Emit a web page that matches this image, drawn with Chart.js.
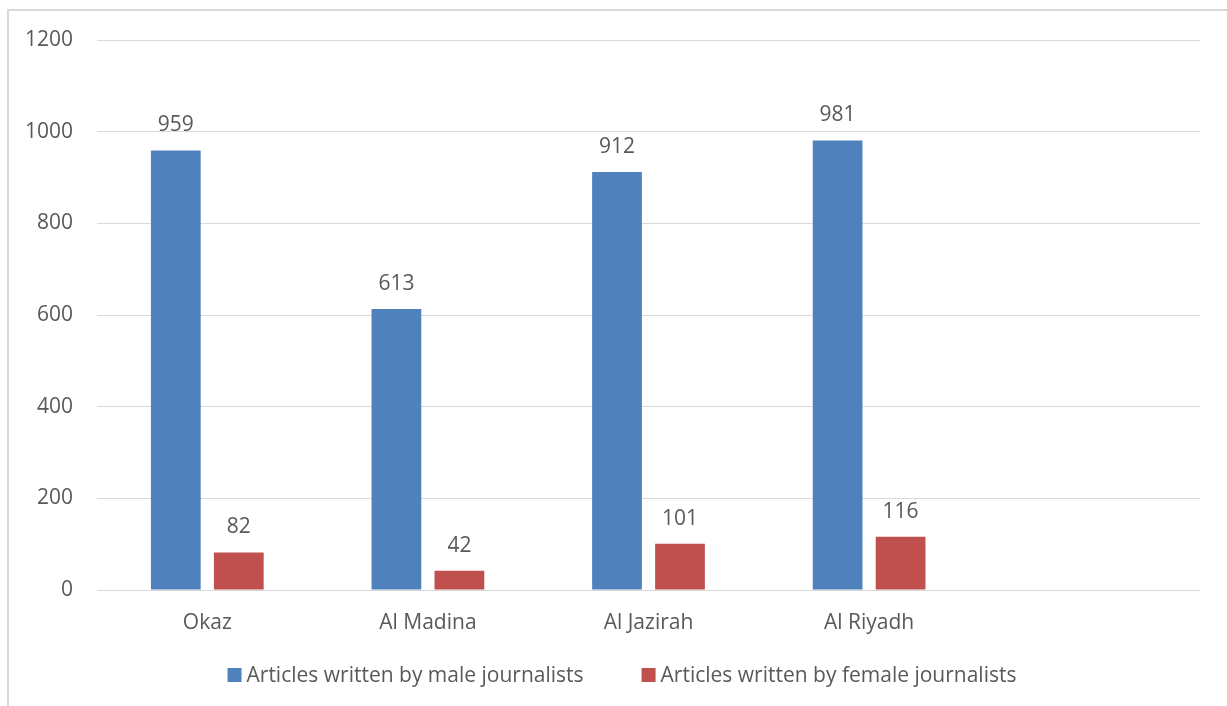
<!DOCTYPE html>
<html>
<head>
<meta charset="utf-8">
<script src="https://cdn.jsdelivr.net/npm/chart.js@4"></script>
<style>
  html, body { margin: 0; padding: 0; background: #fff; }
</style>
</head>
<body>
<canvas id="chart" width="1227" height="706"></canvas>
<script>
// Newspapers (last slot is empty in the original)
const papers = ['Okaz', 'Al Madina', 'Al Jazirah', 'Al Riyadh', ''];
const maleArticles = [959, 613, 912, 981, null];
const femaleArticles = [82, 42, 101, 116, null];
const yTicks = [0, 200, 400, 600, 800, 1000, 1200];

const textColor = '#595959';
const gridColor = '#d9d9d9';
const fontFamily = '"Open Sans", Lato, sans-serif';
const fontSize = 21;

// outer frame like the office chart border
const framePlugin = {
    id: 'frame',
    beforeDraw(chart) {
        const ctx = chart.ctx;
        ctx.save();
        ctx.strokeStyle = gridColor;
        ctx.lineWidth = 2;
        ctx.strokeRect(8, 10, 1400, 900);
        ctx.restore();
    }
};

// value labels above each bar
const valueLabels = {
    id: 'valueLabels',
    afterDatasetsDraw(chart) {
        const ctx = chart.ctx;
        ctx.save();
        ctx.font = fontSize + 'px ' + fontFamily;
        ctx.fillStyle = textColor;
        ctx.textAlign = 'center';
        ctx.textBaseline = 'alphabetic';
        chart.data.datasets.forEach((ds, i) => {
            chart.getDatasetMeta(i).data.forEach((bar, j) => {
                const v = ds.data[j];
                if (v == null) return;
                ctx.fillText(String(v), bar.x, bar.y - 19);
            });
        });
        ctx.restore();
    }
};

// office-style legend: small square, tight gap, centred under the frame
const officeLegend = {
    id: 'officeLegend',
    afterDraw(chart) {
        const ctx = chart.ctx;
        const box = 14, gap = 5, spacing = 58, cy = 675, centre = 622;
        ctx.save();
        ctx.font = fontSize + 'px ' + fontFamily;
        ctx.textBaseline = 'middle';
        ctx.textAlign = 'left';
        const items = chart.data.datasets.map(ds => ({
            text: ds.label, color: ds.backgroundColor,
            w: box + gap + ctx.measureText(ds.label).width
        }));
        const total = items.reduce((s, it) => s + it.w, 0) + spacing * (items.length - 1);
        let x = centre - total / 2;
        items.forEach(it => {
            ctx.fillStyle = it.color;
            ctx.fillRect(x, cy - box / 2, box, box);
            ctx.fillStyle = textColor;
            ctx.fillText(it.text, x + box + gap, cy + 1);
            x += it.w + spacing;
        });
        ctx.restore();
    }
};

new Chart(document.getElementById('chart'), {
    type: 'bar',
    data: {
        labels: papers,
        datasets: [{
            label: 'Articles written by male journalists',
            data: maleArticles,
            backgroundColor: '#4f81bd',
            barPercentage: 0.79,
            categoryPercentage: 0.571
        }, {
            label: 'Articles written by female journalists',
            data: femaleArticles,
            backgroundColor: '#c0504d',
            barPercentage: 0.79,
            categoryPercentage: 0.571
        }]
    },
    options: {
        responsive: false,
        animation: false,
        devicePixelRatio: 1,
        layout: { padding: { left: 8, right: 27, top: 40, bottom: 0 } },
        plugins: {
            tooltip: { enabled: false },
            legend: { display: false }
        },
        scales: {
            x: {
                grid: { display: false, drawTicks: false },
                border: { display: false },
                ticks: { color: textColor, font: { family: fontFamily, size: fontSize }, padding: 20 },
                afterFit(scale) { scale.height = 116; }
            },
            y: {
                min: 0,
                max: 1200,
                afterBuildTicks(scale) { scale.ticks = yTicks.map(v => ({ value: v })); },
                grid: { color: gridColor, lineWidth: 1, drawTicks: false },
                border: { display: false },
                ticks: {
                    color: textColor,
                    font: { family: fontFamily, size: fontSize },
                    padding: 24,
                    callback: v => String(v)
                },
                afterFit(scale) { scale.width = 89; }
            }
        }
    },
    plugins: [framePlugin, valueLabels, officeLegend]
});
</script>
</body>
</html>
